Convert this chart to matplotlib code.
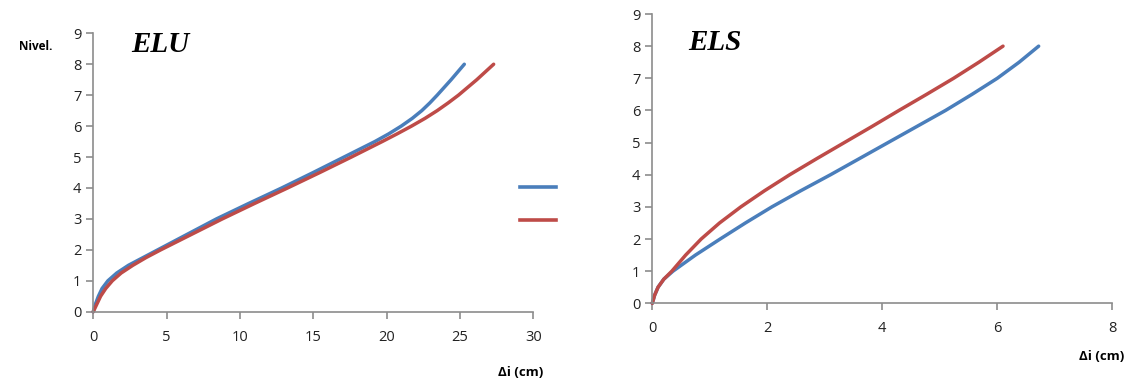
import matplotlib.pyplot as plt
from matplotlib.lines import Line2D

# Niveaux (axe vertical) et déplacements
elu_levels = [0, 0.25, 0.5, 0.75, 1, 1.25, 1.5, 1.75, 2, 2.5, 3, 3.5, 4, 4.5, 5,
              5.5, 5.75, 6, 6.25, 6.5, 6.75, 7, 7.5, 8]
elu_blue = [0, 0.15, 0.35, 0.6, 1.0, 1.6, 2.4, 3.4, 4.4, 6.4, 8.4, 10.6, 12.85, 15.0, 17.1,
            19.2, 20.15, 21.0, 21.75, 22.4, 22.95, 23.45, 24.4, 25.3]
elu_red = [0, 0.25, 0.5, 0.85, 1.3, 1.9, 2.7, 3.6, 4.6, 6.7, 8.8, 11.0, 13.25, 15.45, 17.6,
           19.7, 20.72, 21.7, 22.62, 23.45, 24.2, 24.9, 26.15, 27.3]

els_levels = [0, 0.25, 0.5, 0.75, 1, 1.5, 2, 2.5, 3, 3.5, 4, 4.5, 5, 5.5, 6,
              6.5, 7, 7.5, 8]
els_blue = [0, 0.04, 0.1, 0.2, 0.36, 0.75, 1.18, 1.62, 2.08, 2.58, 3.1, 3.6, 4.1, 4.6,
            5.1, 5.56, 6.0, 6.38, 6.72]
els_red = [0, 0.04, 0.1, 0.2, 0.34, 0.58, 0.85, 1.17, 1.54, 1.95, 2.39, 2.86, 3.34, 3.82,
           4.29, 4.77, 5.24, 5.68, 6.1]

blue = '#4a7ebb'
red = '#be4b48'
gray = '#8c8c8c'

plt.rcParams['font.family'] = ['Open Sans', 'DejaVu Sans']

fig = plt.figure(figsize=(11.36, 3.85), dpi=100)
ax1 = fig.add_axes([0.0821, 0.1904, 0.3873, 0.7231])
ax2 = fig.add_axes([0.5742, 0.2122, 0.4049, 0.7514])


def style(ax, xmax, xstep):
    for s in ['top', 'right']:
        ax.spines[s].set_visible(False)
    for s in ['left', 'bottom']:
        ax.spines[s].set_color(gray)
        ax.spines[s].set_linewidth(1.2)
    ax.set_xlim(0, xmax)
    ax.set_ylim(0, 9)
    ax.set_xticks(range(0, xmax + 1, xstep))
    ax.set_yticks(range(0, 10))
    ax.tick_params(length=5, width=1.2, color=gray, labelsize=10.5, labelcolor='#222222')
    ax.tick_params(axis='x', pad=8)


kw = dict(lw=2.5, solid_capstyle='round', solid_joinstyle='round', clip_on=False)
ax1.plot(elu_blue, elu_levels, color=blue, **kw)
ax1.plot(elu_red, elu_levels, color=red, **kw)
style(ax1, 30, 5)

ax2.plot(els_blue, els_levels, color=blue, **kw)
ax2.plot(els_red, els_levels, color=red, **kw)
style(ax2, 8, 2)

fig.text(160 / 1136, 1 - 45 / 385, 'ELU', family='Liberation Serif', style='italic',
         weight='bold', fontsize=21, ha='center', va='center')
fig.text(715 / 1136, 1 - 43 / 385, 'ELS', family='Liberation Serif', style='italic',
         weight='bold', fontsize=21, ha='center', va='center')
fig.text(36 / 1136, 1 - 47 / 385, 'Nivel.', weight='bold', fontsize=8.5,
         ha='center', va='center')
fig.text(521 / 1136, 1 - 372 / 385, 'Δi (cm)', weight='bold', fontsize=9.5,
         ha='center', va='center')
fig.text(1102 / 1136, 1 - 357 / 385, 'Δi (cm)', weight='bold', fontsize=9.5,
         ha='center', va='center')

handles = [Line2D([], [], color=blue, lw=2.6), Line2D([], [], color=red, lw=2.6)]
fig.legend(handles, ['', ''], loc='center left', bbox_to_anchor=(507 / 1136, 1 - 205 / 385),
           frameon=False, handlelength=2.6, labelspacing=1.3, handletextpad=0)

fig.savefig('out.png', dpi=100, facecolor='white')
